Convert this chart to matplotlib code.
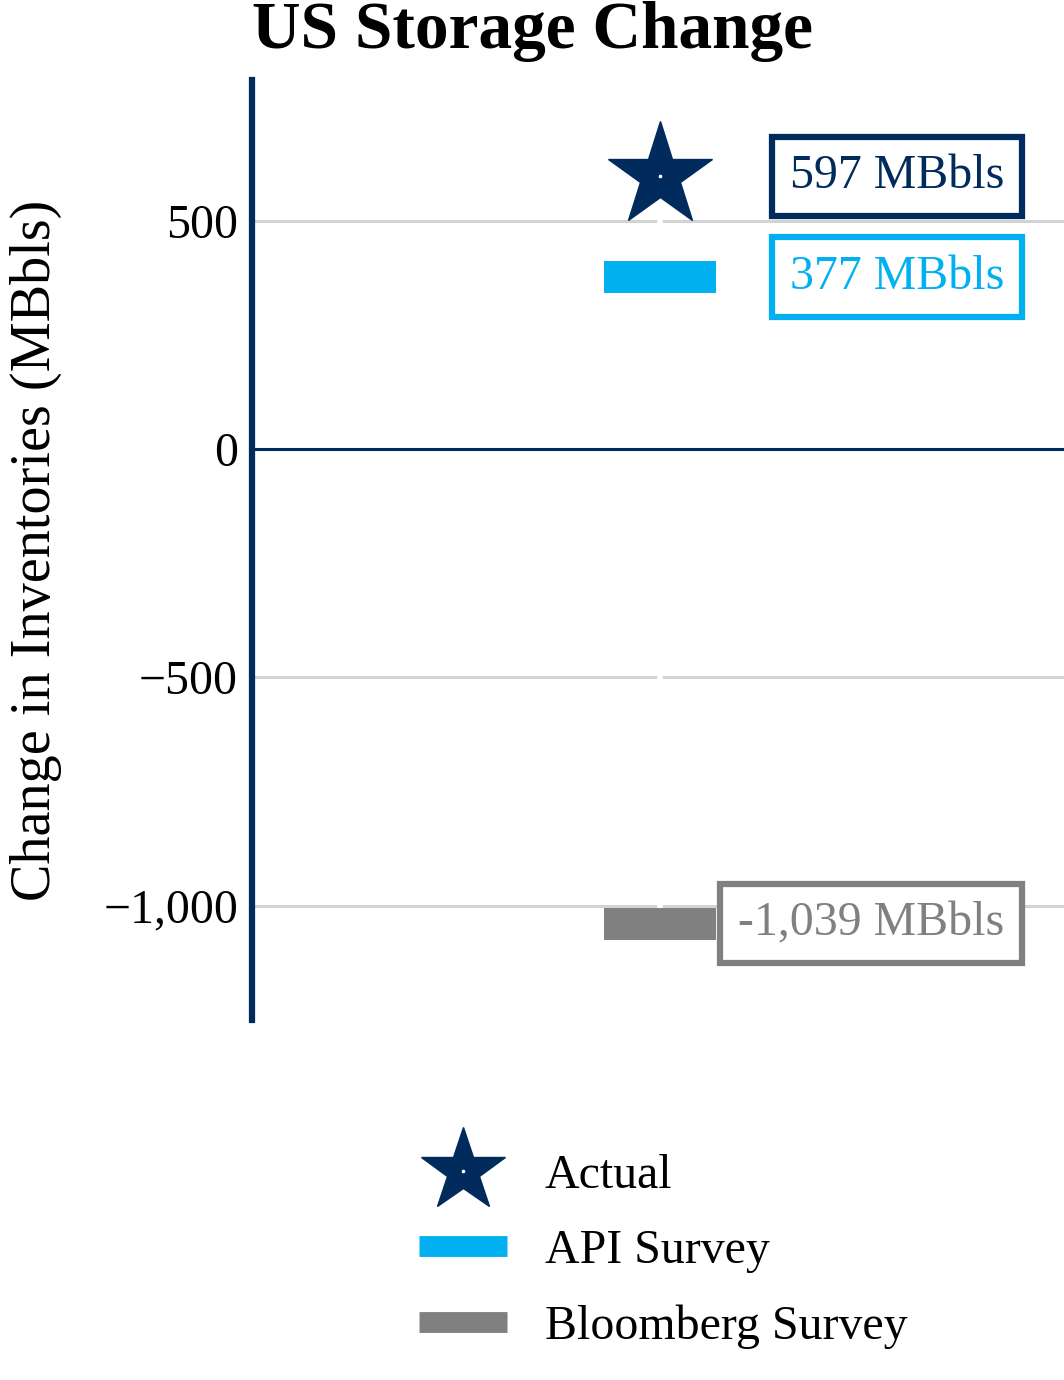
import matplotlib
matplotlib.use("Agg")
import matplotlib.pyplot as plt
from matplotlib.ticker import FuncFormatter
from matplotlib.lines import Line2D

plt.rcParams['font.family'] = ['Liberation Serif', 'DejaVu Serif']

# data
series = ["Actual", "API Survey", "Bloomberg Survey"]
values = [597, 377, -1039]
colors = ["#002B5C", "#00B0F0", "#808080"]
yticks = [-1000, -500, 0, 500]

navy = colors[0]
xpos = 0  # single category

fig = plt.figure(figsize=(10.64, 13.8), dpi=100)
ax = fig.add_axes([0.2368, 0.2609, 0.7632, 0.6811])

ax.set_xlim(-1, 0.99)
ax.set_ylim(-1250, 808)
ax.set_axisbelow(True)
ax.yaxis.grid(True, color="#D3D3D3", lw=2.2)
ax.axvline(xpos, color="white", lw=4, zorder=1)
ax.axhline(0, color=navy, lw=2.2, zorder=2)

# survey bars
half = 0.138
for v, c in zip(values[1:], colors[1:]):
    ax.hlines(v, xpos - half, xpos + half, color=c, lw=23, zorder=3)

# actual star
ax.plot(xpos, values[0], marker="*", ms=79, color=navy, ls="none", zorder=4)
ax.plot(xpos, values[0], marker="o", ms=1.6, color="white", ls="none", zorder=5)

# value boxes
for v, c in zip(values, colors):
    ax.text(0.843, v, f"{v:,} MBbls", ha="right", va="center", fontsize=34.5, color=c,
            zorder=6,
            bbox=dict(boxstyle="square,pad=0.37", fc="white", ec=c, lw=4.5))

ax.set_yticks(yticks)
ax.yaxis.set_major_formatter(FuncFormatter(lambda v, p: f"{v:,.0f}".replace("-", "\u2212")))
ax.tick_params(axis="y", length=0, pad=10, labelsize=34.5)
ax.set_xticks([])
for s in ["top", "right", "bottom"]:
    ax.spines[s].set_visible(False)
ax.spines["left"].set_color(navy)
ax.spines["left"].set_linewidth(4.5)
ax.set_ylabel("Change in Inventories (MBbls)", fontsize=40.5, labelpad=30)

fig.suptitle("US Storage Change", fontsize=48.5, fontweight="bold", x=0.5, y=0.999)

# legend
h_star = (Line2D([], [], marker="*", ms=63, color=navy, ls="none"),
          Line2D([], [], marker="o", ms=1.6, color="white", ls="none"))
h_api = Line2D([], [], color=colors[1], lw=15, solid_capstyle="butt")
h_bbg = Line2D([], [], color=colors[2], lw=15, solid_capstyle="butt")
fig.legend([h_star, h_api, h_bbg], series, loc="upper left",
           bbox_to_anchor=(0.353, 0.195), frameon=False, fontsize=34.5,
           handlelength=1.85, handletextpad=0.78, labelspacing=0.65)

fig.savefig("out.png", dpi=100)
